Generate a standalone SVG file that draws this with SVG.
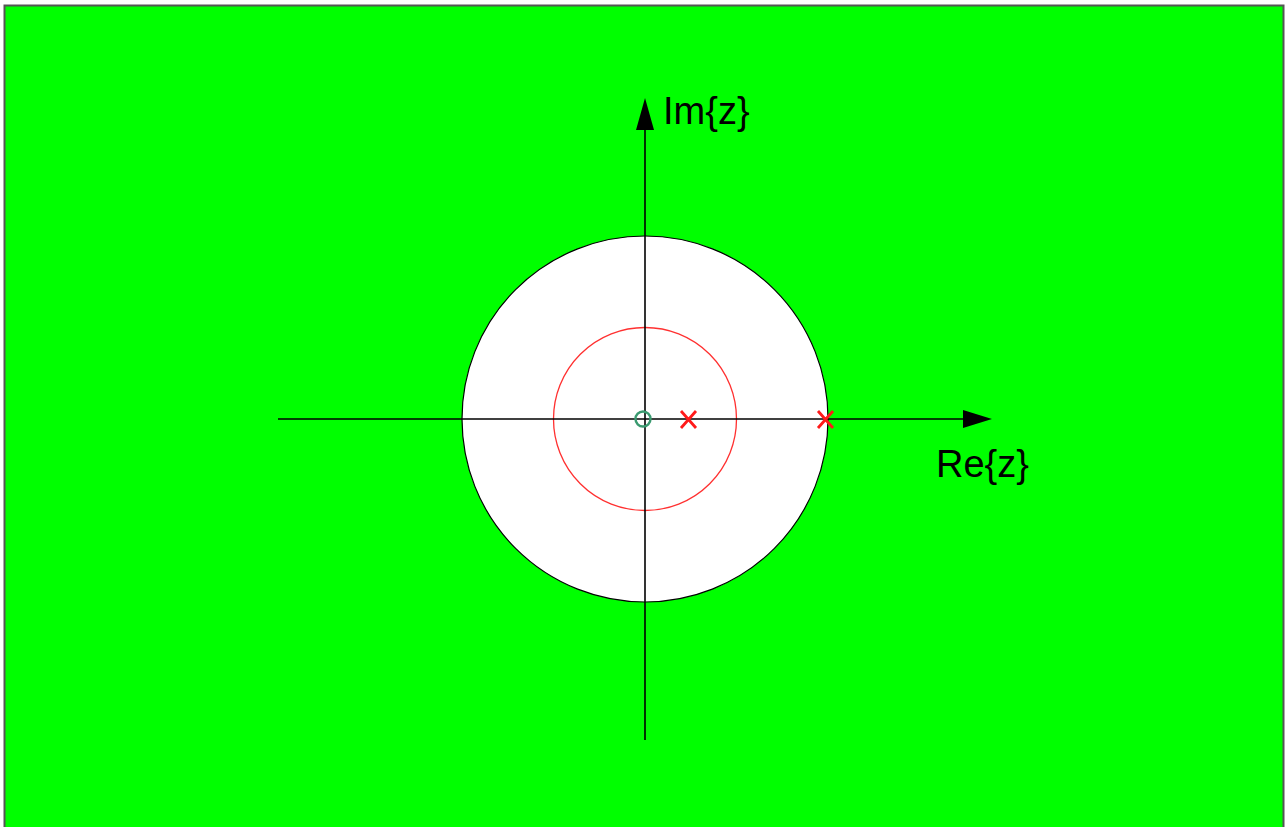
<svg xmlns="http://www.w3.org/2000/svg" width="1288" height="827" viewBox="0 0 1288 827">
<style>
.ax{stroke:#000;stroke-width:1.6;fill:none}
.lbl{font-family:"Liberation Sans",Arial,sans-serif;font-size:38px;fill:#000}
.pole{stroke:#ff1a1a;stroke-width:2.8;fill:none}
</style>
<rect x="4.5" y="5.5" width="1279" height="830" fill="#00ff00" stroke="#555" stroke-width="2"/>
<g id="unit-circle"><circle cx="645" cy="419" r="183" fill="#fff" stroke="#000" stroke-width="1.2"/></g>
<g id="roc-circle"><circle cx="645" cy="419" r="91.5" fill="none" stroke="#ff3030" stroke-width="1.3"/></g>
<g id="connectors">
<line class="ax" x1="278" y1="419" x2="965" y2="419"/>
<polygon points="963,410 992,419 963,428" fill="#000"/>
<line class="ax" x1="645" y1="740" x2="645" y2="128"/>
<polygon points="636,130 645,98 654,130" fill="#000"/>
</g>
<g id="zero"><circle cx="643" cy="419" r="7.5" fill="none" stroke="#3a9a70" stroke-width="2.4"/></g>
<g id="pole1"><path class="pole" d="M681,411 L696,428 M696,411 L681,428"/></g>
<g id="pole2"><path class="pole" d="M818,411 L833,428 M833,411 L818,428"/></g>
<g id="im-label"><text class="lbl" x="663" y="124">Im{z}</text></g>
<g id="re-label"><text class="lbl" x="936" y="477">Re{z}</text></g>
</svg>
